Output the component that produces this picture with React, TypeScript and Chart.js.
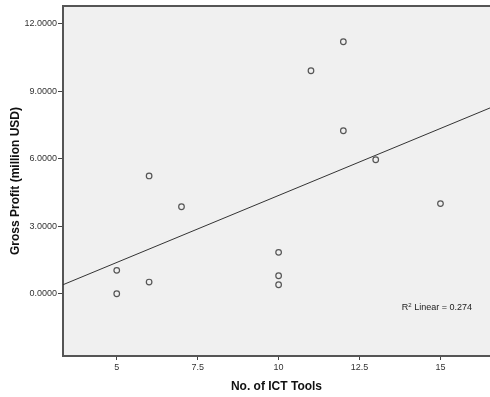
import { useEffect, useRef } from 'react';
import { Chart, registerables } from 'chart.js';

Chart.register(...registerables);

const ictTools = [5, 5, 6, 6, 7, 10, 10, 10, 11, 12, 12, 13, 15];
const grossProfit = [0.0, 1.04, 0.52, 5.24, 3.87, 1.84, 0.8, 0.4, 9.92, 11.21, 7.25, 5.96, 4.01];
const xTickValues = [5, 7.5, 10, 12.5, 15];
const yTickValues = [0, 3, 6, 9, 12];
const xRange = [3.34, 16.53];
const yRange = [-2.77, 12.8];
const rSquaredText = '0.274';
const xTitle = 'No. of ICT Tools';
const yTitle = 'Gross Profit (million USD)';

function fitLine(xs: number[], ys: number[]) {
  const n = xs.length;
  const mx = xs.reduce((a, b) => a + b, 0) / n;
  const my = ys.reduce((a, b) => a + b, 0) / n;
  let sxy = 0;
  let sxx = 0;
  for (let i = 0; i < n; i++) {
    sxy += (xs[i] - mx) * (ys[i] - my);
    sxx += (xs[i] - mx) * (xs[i] - mx);
  }
  const slope = sxy / sxx;
  const intercept = my - slope * mx;
  return { slope, intercept };
}

const FONT = "'Liberation Sans', Arial, sans-serif";

const bgPlugin = {
  id: 'plotBg',
  beforeDraw(chart: any) {
    const { ctx, chartArea } = chart;
    ctx.save();
    ctx.fillStyle = '#f0f0f0';
    ctx.fillRect(chartArea.left, chartArea.top, chartArea.right - chartArea.left, chartArea.bottom - chartArea.top);
    ctx.strokeStyle = '#555555';
    ctx.lineWidth = 2;
    ctx.beginPath();
    ctx.moveTo(chartArea.left, chartArea.top);
    ctx.lineTo(chartArea.right, chartArea.top);
    ctx.stroke();
    ctx.restore();
  },
  afterDraw(chart: any) {
    const { ctx, chartArea } = chart;
    ctx.save();
    ctx.fillStyle = '#222222';
    ctx.textBaseline = 'middle';
    const y = chartArea.bottom - 48;
    const rightX = chartArea.right - 18;
    const main = ' Linear = ' + rSquaredText;
    ctx.font = `9px ${FONT}`;
    const wR = ctx.measureText('R').width;
    const wMain = ctx.measureText(main).width;
    ctx.font = `6px ${FONT}`;
    const w2 = ctx.measureText('2').width;
    const startX = rightX - (wR + w2 + wMain);
    ctx.font = `9px ${FONT}`;
    ctx.textAlign = 'left';
    ctx.fillText('R', startX, y);
    ctx.font = `6px ${FONT}`;
    ctx.fillText('2', startX + wR, y - 3);
    ctx.font = `9px ${FONT}`;
    ctx.fillText(main, startX + wR + w2, y);
    ctx.restore();
  },
};

export default function App() {
  const ref = useRef<HTMLCanvasElement>(null);

  useEffect(() => {
    if (!ref.current) return;
    const { slope, intercept } = fitLine(ictTools, grossProfit);
    const linePts = [
      { x: xRange[0], y: intercept + slope * xRange[0] },
      { x: xRange[1], y: intercept + slope * xRange[1] },
    ];
    const chart = new Chart(ref.current, {
      type: 'scatter',
      data: {
        datasets: [
          {
            type: 'line',
            data: linePts,
            borderColor: '#333333',
            borderWidth: 1,
            pointRadius: 0,
            fill: false,
          } as any,
          {
            data: ictTools.map((x, i) => ({ x, y: grossProfit[i] })),
            pointRadius: 2.8,
            pointBorderWidth: 1.2,
            pointBorderColor: '#555555',
            pointBackgroundColor: 'rgba(0,0,0,0)',
          },
        ],
      },
      options: {
        responsive: false,
        animation: false,
        layout: { autoPadding: false, padding: { top: 6, right: 0, left: 0, bottom: 0 } },
        plugins: { legend: { display: false }, tooltip: { enabled: false } },
        scales: {
          x: {
            type: 'linear',
            min: xRange[0],
            max: xRange[1],
            afterBuildTicks: (s: any) => {
              s.ticks = xTickValues.map((v) => ({ value: v }));
            },
            afterFit: (s: any) => {
              s.height = 41;
              s.paddingRight = 0;
              s.paddingLeft = 0;
            },
            grid: { drawOnChartArea: false, tickLength: 4, color: '#444444', tickWidth: 1 },
            border: { color: '#555555', width: 2 },
            ticks: {
              padding: 2,
              color: '#333333',
              font: { family: FONT, size: 9 },
              maxRotation: 0,
              callback: (v: any) => String(v),
            },
            title: {
              display: true,
              text: xTitle,
              color: '#111111',
              font: { family: FONT, size: 12, weight: 'bold' },
              padding: { top: 4, bottom: 3 },
            },
          },
          y: {
            type: 'linear',
            min: yRange[0],
            max: yRange[1],
            afterBuildTicks: (s: any) => {
              s.ticks = yTickValues.map((v) => ({ value: v }));
            },
            afterFit: (s: any) => {
              s.width = 63;
              s.paddingTop = 0;
              s.paddingBottom = 0;
            },
            grid: { drawOnChartArea: false, tickLength: 5, color: '#444444', tickWidth: 1 },
            border: { color: '#555555', width: 2 },
            ticks: {
              padding: 1,
              color: '#333333',
              font: { family: FONT, size: 9 },
              callback: (v: any) => Number(v).toFixed(4),
            },
            title: {
              display: true,
              text: yTitle,
              color: '#111111',
              font: { family: FONT, size: 12, weight: 'bold' },
              padding: { top: 8, bottom: 4 },
            },
          },
        },
      },
      plugins: [bgPlugin],
    });
    return () => chart.destroy();
  }, []);

  return (
    <div style={{ position: 'absolute', left: 0, top: 0, width: 490, height: 397, background: '#ffffff', overflow: 'hidden' }}>
      <canvas ref={ref} width={490} height={397} style={{ width: 490, height: 397, display: 'block' }} />
    </div>
  );
}
